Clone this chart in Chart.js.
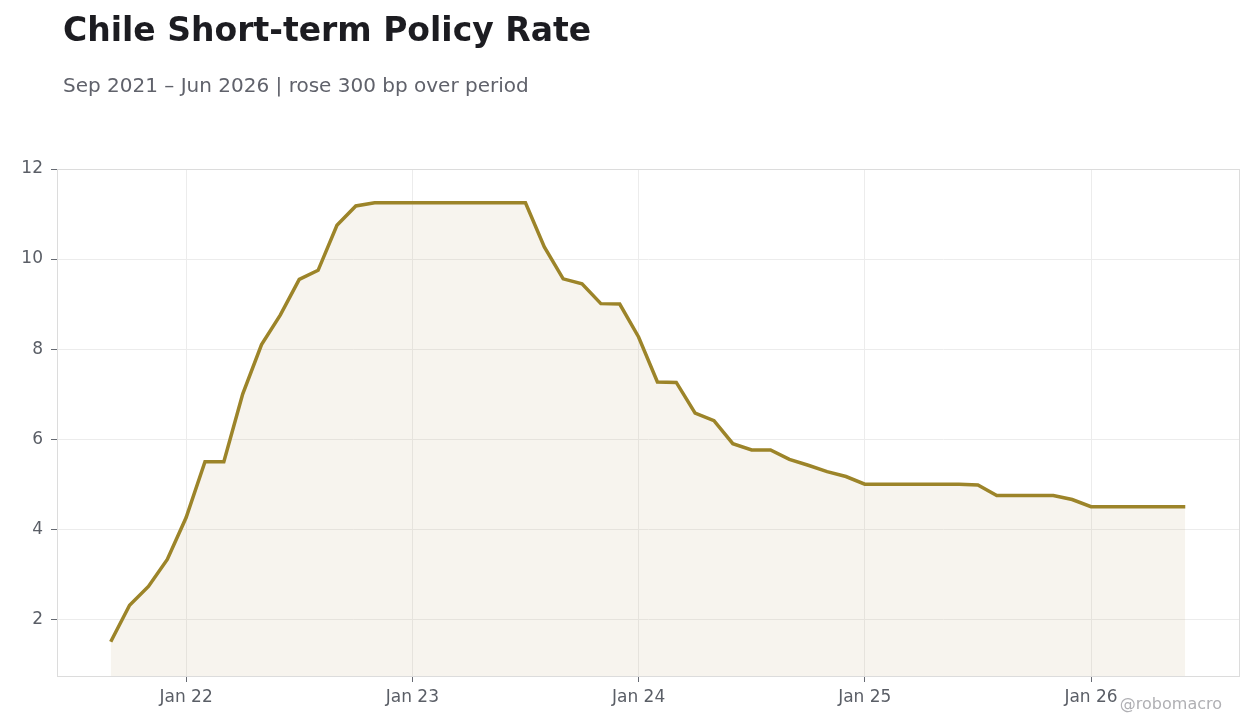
<!DOCTYPE html>
<html>
<head>
<meta charset="utf-8">
<script src="https://cdn.jsdelivr.net/npm/chart.js@4.4.1/dist/chart.umd.min.js"></script>
<style>
  html, body { margin: 0; padding: 0; background: #ffffff; }
  #wrap { position: relative; width: 1260px; height: 728px; overflow: hidden; font-family: "DejaVu Sans", sans-serif; }
  #title { position: absolute; left: 63px; top: 13px; font-size: 33px; line-height: 33px; font-weight: bold; color: #1c1c21; white-space: nowrap; }
  #subtitle { position: absolute; left: 63px; top: 75px; font-size: 20px; line-height: 20px; color: #60626b; white-space: nowrap; }
  #mark { position: absolute; right: 38px; top: 696px; font-size: 16px; line-height: 16px; color: #b0b0b4; white-space: nowrap; }
  canvas { position: absolute; left: 0; top: 0; }
</style>
</head>
<body>
<div id="wrap">
  <canvas id="c" width="1260" height="728"></canvas>
  <div id="title">Chile Short-term Policy Rate</div>
  <div id="subtitle">Sep 2021 – Jun 2026 | rose 300 bp over period</div>
  <div id="mark">@robomacro</div>
</div>
<script>
// Months from Sep 2021 to Jun 2026
const months = [
  "Sep 21","Oct 21","Nov 21","Dec 21",
  "Jan 22","Feb 22","Mar 22","Apr 22","May 22","Jun 22","Jul 22","Aug 22","Sep 22","Oct 22","Nov 22","Dec 22",
  "Jan 23","Feb 23","Mar 23","Apr 23","May 23","Jun 23","Jul 23","Aug 23","Sep 23","Oct 23","Nov 23","Dec 23",
  "Jan 24","Feb 24","Mar 24","Apr 24","May 24","Jun 24","Jul 24","Aug 24","Sep 24","Oct 24","Nov 24","Dec 24",
  "Jan 25","Feb 25","Mar 25","Apr 25","May 25","Jun 25","Jul 25","Aug 25","Sep 25","Oct 25","Nov 25","Dec 25",
  "Jan 26","Feb 26","Mar 26","Apr 26","May 26","Jun 26"
];
const policyRate = [
  1.5, 2.31, 2.73, 3.33,
  4.26, 5.5, 5.5, 7.0, 8.1, 8.76, 9.55, 9.75, 10.75, 11.18, 11.25, 11.25,
  11.25, 11.25, 11.25, 11.25, 11.25, 11.25, 11.25, 10.27, 9.56, 9.45, 9.01, 9.0,
  8.27, 7.27, 7.26, 6.58, 6.41, 5.9, 5.76, 5.76, 5.55, 5.42, 5.28, 5.17,
  5.0, 5.0, 5.0, 5.0, 5.0, 5.0, 4.98, 4.75, 4.75, 4.75, 4.75, 4.66,
  4.5, 4.5, 4.5, 4.5, 4.5, 4.5
];
const xTickLabels = ["Jan 22", "Jan 23", "Jan 24", "Jan 25", "Jan 26"];
const yTickValues = [2, 4, 6, 8, 10, 12];

const xTickPositions = xTickLabels.map(l => months.indexOf(l));
const points = policyRate.map((v, i) => ({ x: i, y: v }));
const pad = (months.length - 1) * 0.05;

const frame = {
  id: 'frame',
  afterDatasetsDraw(chart) {
    const a = chart.chartArea, ctx = chart.ctx;
    ctx.save();
    ctx.strokeStyle = '#dcdcdc';
    ctx.lineWidth = 1;
    ctx.strokeRect(Math.round(a.left) + 0.5, Math.round(a.top) + 0.5, Math.round(a.right - a.left), Math.round(a.bottom - a.top));
    ctx.restore();
  }
};

new Chart(document.getElementById('c'), {
  type: 'line',
  data: {
    datasets: [{
      label: 'Policy rate',
      data: points,
      borderColor: '#9c8429',
      backgroundColor: 'rgba(180, 150, 90, 0.10)',
      borderWidth: 3.5,
      pointRadius: 0,
      tension: 0,
      fill: 'start'
    }]
  },
  plugins: [frame],
  options: {
    responsive: false,
    animation: false,
    devicePixelRatio: 1,
    layout: { padding: { top: 169, right: 21, left: 0, bottom: 0 } },
    plugins: { legend: { display: false }, tooltip: { enabled: false } },
    scales: {
      x: {
        type: 'linear',
        min: -pad,
        max: months.length - 1 + pad,
        afterBuildTicks(scale) { scale.ticks = xTickPositions.map(v => ({ value: v })); },
        afterFit(scale) { scale.height = 52; },
        ticks: {
          callback: (v) => xTickLabels[xTickPositions.indexOf(v)] || '',
          color: '#5a5e66',
          font: { family: 'DejaVu Sans', size: 17 },
          padding: 5,
          maxRotation: 0,
          autoSkip: false
        },
        grid: { color: '#ececec', tickColor: '#666a72', tickLength: 6, drawTicks: true },
        border: { color: '#dcdcdc' }
      },
      y: {
        min: 0.74,
        max: 12,
        afterBuildTicks(scale) { scale.ticks = yTickValues.map(v => ({ value: v })); },
        afterFit(scale) { scale.width = 57; },
        ticks: {
          color: '#5a5e66',
          font: { family: 'DejaVu Sans', size: 17 },
          padding: 8
        },
        grid: { color: '#ececec', tickColor: '#666a72', tickLength: 6, drawTicks: true },
        border: { color: '#dcdcdc' }
      }
    }
  }
});
</script>
</body>
</html>
